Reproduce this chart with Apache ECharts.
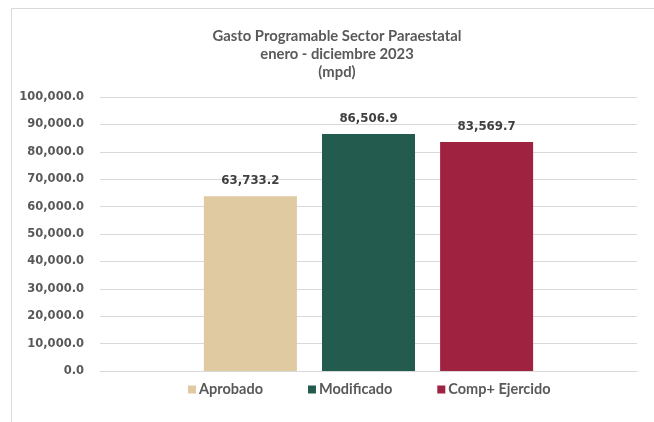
<!DOCTYPE html>
<html>
<head>
<meta charset="utf-8">
<script src="https://cdn.jsdelivr.net/npm/echarts@6/dist/echarts.min.js"></script>
<style>
  html, body { margin: 0; padding: 0; background: #fff; }
  #chart { width: 654px; height: 422px; }
</style>
</head>
<body>
<div id="chart"></div>
<script>
// datos
const categorias = [''];
const series = ['Aprobado', 'Modificado', 'Comp+ Ejercido'];
const valores = [63733.2, 86506.9, 83569.7];
const colores = ['#DFCAA1', '#235B4E', '#9F2241'];

const yMin = 0;
const yMax = 100000;
const yStep = 10000;

function fmt(v) {
  const s = Number(v).toFixed(1);
  const p = s.split('.');
  return p[0].replace(/\B(?=(\d{3})+(?!\d))/g, ',') + '.' + p[1];
}

const chart = echarts.init(document.getElementById('chart'));
const option = {
  animation: false,
  title: {
    text: 'Gasto Programable Sector Paraestatal\nenero - diciembre 2023\n(mpd)',
    left: 332,
    textAlign: 'center',
    top: 22,
    textStyle: {
      fontFamily: 'Lato',
      fontSize: 14.8,
      fontWeight: 'bold',
      color: '#595959',
      lineHeight: 18,
    },
  },
  graphic: [
    {
      type: 'rect',
      shape: { x: 11.5, y: 8.5, width: 700, height: 500 },
      style: { fill: 'none', stroke: '#d9d9d9', lineWidth: 1 },
      silent: true,
    },
  ],
  legend: {
    data: series,
    bottom: 20,
    left: 183,
    itemWidth: 8,
    itemHeight: 8,
    itemGap: 45,
    icon: 'rect',
    textStyle: {
      fontFamily: 'Lato',
      fontSize: 14.5,
      fontWeight: 'bold',
      color: '#595959',
      padding: [0, 0, 0, -2],
    },
  },
  grid: {
    left: 100,
    right: 17,
    top: 97,
    bottom: 51,
  },
  xAxis: {
    type: 'category',
    data: categorias,
    axisLine: { lineStyle: { color: '#d9d9d9' } },
    axisTick: { show: false },
    axisLabel: { show: false },
  },
  yAxis: {
    type: 'value',
    min: yMin,
    max: yMax,
    interval: yStep,
    axisLine: { show: false },
    axisTick: { show: false },
    splitLine: { lineStyle: { color: '#d9d9d9', width: 1 } },
    axisLabel: {
      margin: 16,
      fontFamily: 'DejaVu Sans',
      fontSize: 11.5,
      fontWeight: 'bold',
      color: '#595959',
      formatter: fmt,
    },
  },
  series: series.map((name, i) => ({
    name,
    type: 'bar',
    data: [valores[i]],
    barWidth: 93,
    barGap: '27%',
    itemStyle: { color: colores[i] },
    label: {
      show: true,
      position: 'top',
      distance: 9,
      fontFamily: 'DejaVu Sans',
      fontSize: 11.8,
      fontWeight: 'bold',
      color: '#404040',
      formatter: (p) => fmt(p.value),
    },
  })),
};
chart.setOption(option);
</script>
</body>
</html>
